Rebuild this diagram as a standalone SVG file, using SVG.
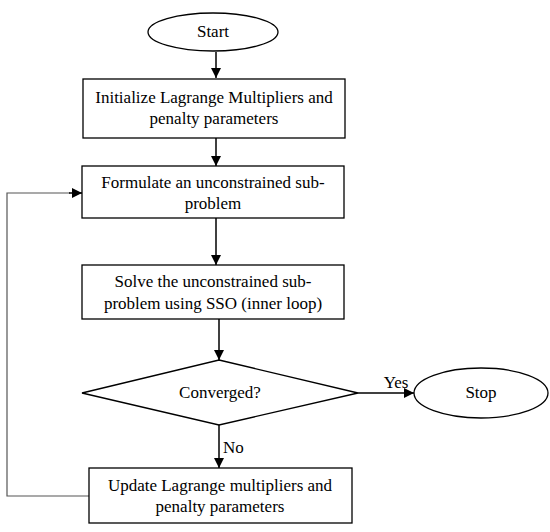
<svg xmlns="http://www.w3.org/2000/svg" width="550" height="532" viewBox="0 0 550 532">
<defs>
<marker id="ah" viewBox="0 0 10 10" refX="10" refY="5" markerWidth="10" markerHeight="10" markerUnits="userSpaceOnUse" orient="auto">
<path d="M0,0 L10,5 L0,10 z" fill="#000"/>
</marker>
</defs>
<style>
.n{fill:#fff;stroke:#000;stroke-width:1.3}
.t{font-family:'Liberation Serif',serif;font-size:17px;fill:#000;text-anchor:middle}
.c{fill:none;stroke:#000;stroke-width:1.5}
.fb{fill:none;stroke:#555;stroke-width:1.2}
</style>
<rect width="550" height="532" fill="#fff"/>
<g id="connectors">
<line class="c" x1="216" y1="52" x2="216" y2="78" marker-end="url(#ah)"/>
<line class="c" x1="216" y1="138" x2="216" y2="166" marker-end="url(#ah)"/>
<line class="c" x1="216" y1="218" x2="216" y2="265" marker-end="url(#ah)"/>
<line class="c" x1="219" y1="319" x2="219" y2="360" marker-end="url(#ah)"/>
<line class="c" x1="358" y1="393" x2="414" y2="393" marker-end="url(#ah)"/>
<line class="c" x1="219" y1="425" x2="219" y2="468" marker-end="url(#ah)"/>
<polyline class="fb" points="89,496 7,496 7,193 70,193"/>
<line class="c" x1="69" y1="193" x2="82" y2="193" marker-end="url(#ah)"/>
<text class="t" x="396" y="388">Yes</text>
<text class="t" x="223" y="453" style="text-anchor:start">No</text>
</g>
<g id="start">
<ellipse class="n" cx="213" cy="32" rx="65" ry="19"/>
<text class="t" x="213" y="37">Start</text>
</g>
<g id="init">
<rect class="n" x="83" y="79" width="262" height="59"/>
<text class="t" x="214" y="103">Initialize Lagrange Multipliers and</text>
<text class="t" x="214" y="124">penalty parameters</text>
</g>
<g id="formulate">
<rect class="n" x="82" y="166" width="262" height="52"/>
<text class="t" x="213" y="188">Formulate an unconstrained sub-</text>
<text class="t" x="213" y="209">problem</text>
</g>
<g id="solve">
<rect class="n" x="82" y="265" width="262" height="54"/>
<text class="t" x="213" y="287">Solve the unconstrained sub-</text>
<text class="t" x="213" y="309">problem using SSO (inner loop)</text>
</g>
<g id="converged">
<polygon class="n" points="219,360 358,393 219,425 82,393"/>
<text class="t" x="220" y="398">Converged?</text>
</g>
<g id="stop">
<ellipse class="n" cx="481" cy="393" rx="67" ry="25"/>
<text class="t" x="481" y="398">Stop</text>
</g>
<g id="update">
<rect class="n" x="89" y="468" width="263" height="55"/>
<text class="t" x="220" y="491">Update Lagrange multipliers and</text>
<text class="t" x="220" y="512">penalty parameters</text>
</g>
</svg>
